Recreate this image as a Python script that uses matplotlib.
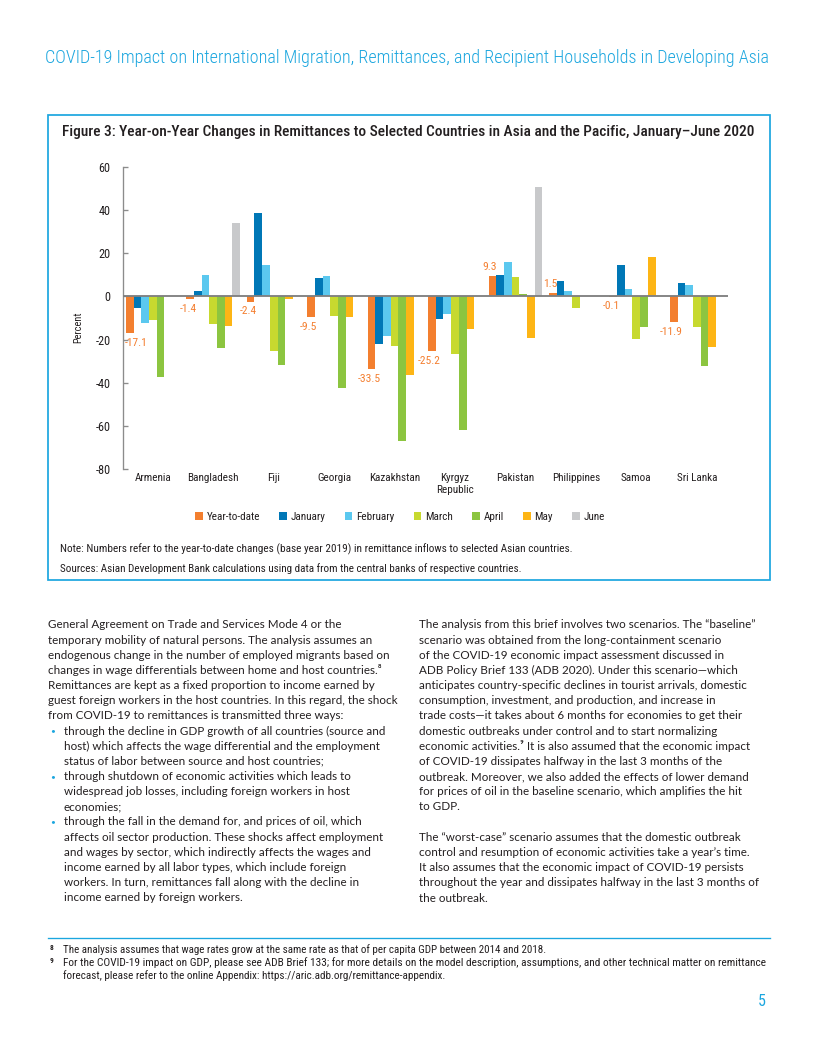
import numpy as np
import matplotlib
matplotlib.use("Agg")
import matplotlib.pyplot as plt
from matplotlib import font_manager
from matplotlib.patches import Rectangle, Patch

# ---------------- data ----------------
countries = ["Armenia", "Bangladesh", "Fiji", "Georgia", "Kazakhstan",
             "Kyrgyz\nRepublic", "Pakistan", "Philippines", "Samoa", "Sri Lanka"]
series_names = ["Year-to-date", "January", "February", "March", "April", "May", "June"]
nan = np.nan
ytd = [-17.1, -1.4, -2.4, -9.5, -33.5, -25.2, 9.3, 1.5, -0.1, -11.9]
jan = [-5.5, 2.3, 38.5, 8.5, -22.0, -10.3, 9.7, 7.1, 14.5, 6.3]
feb = [-12.3, 10.0, 14.6, 9.3, -18.2, -8.0, 15.7, 2.3, 3.4, 5.2]
mar = [-11.1, -12.6, -25.1, -9.1, -22.8, -26.5, 9.1, -5.2, -19.6, -14.0]
apr = [-37.3, -23.9, -31.8, -42.4, -66.8, -62.0, 0.9, nan, -14.0, -32.4]
may = [nan, -13.9, -1.2, -9.7, -36.2, -15.1, -19.1, nan, 18.2, -23.3]
jun = [nan, 33.9, nan, nan, nan, nan, 50.4, nan, nan, nan]
y_ticks = [-80, -60, -40, -20, 0, 20, 40, 60]

header_text = ("COVID-19 Impact on International Migration, Remittances, "
               "and Recipient Households in Developing Asia")
fig_title = ("Figure 3: Year-on-Year Changes in Remittances to Selected Countries "
             "in Asia and the Pacific, January\u2013June 2020")
note_text = ("Note: Numbers refer to the year-to-date changes (base year 2019) in "
             "remittance inflows to selected Asian countries.")
source_text = ("Sources: Asian Development Bank calculations using data from the "
               "central banks of respective countries.")

col1_lines = [
    ("", "General Agreement on Trade and Services Mode 4 or the"),
    ("", "temporary mobility of natural persons. The analysis assumes an"),
    ("", "endogenous change in the number of employed migrants based on"),
    ("", "changes in wage differentials between home and host countries.\u2078"),
    ("", "Remittances are kept as a fixed proportion to income earned by"),
    ("", "guest foreign workers in the host countries. In this regard, the shock"),
    ("", "from COVID-19 to remittances is transmitted three ways:"),
    ("b", "through the decline in GDP growth of all countries (source and"),
    ("i", "host) which affects the wage differential and the employment"),
    ("i", "status of labor between source and host countries;"),
    ("b", "through shutdown of economic activities which leads to"),
    ("i", "widespread job losses, including foreign workers in host"),
    ("i", "economies;"),
    ("b", "through the fall in the demand for, and prices of oil, which"),
    ("i", "affects oil sector production. These shocks affect employment"),
    ("i", "and wages by sector, which indirectly affects the wages and"),
    ("i", "income earned by all labor types, which include foreign"),
    ("i", "workers. In turn, remittances fall along with the decline in"),
    ("i", "income earned by foreign workers."),
]
col2_par1 = [
    "The analysis from this brief involves two scenarios. The \u201cbaseline\u201d",
    "scenario was obtained from the long-containment scenario",
    "of the COVID-19 economic impact assessment discussed in",
    "ADB Policy Brief 133 (ADB 2020). Under this scenario\u2014which",
    "anticipates country-specific declines in tourist arrivals, domestic",
    "consumption, investment, and production, and increase in",
    "trade costs\u2014it takes about 6 months for economies to get their",
    "domestic outbreaks under control and to start normalizing",
    "economic activities.\u2079 It is also assumed that the economic impact",
    "of COVID-19 dissipates halfway in the last 3 months of the",
    "outbreak. Moreover, we also added the effects of lower demand",
    "for prices of oil in the baseline scenario, which amplifies the hit",
    "to GDP.",
]
col2_par2 = [
    "The \u201cworst-case\u201d scenario assumes that the domestic outbreak",
    "control and resumption of economic activities take a year\u2019s time.",
    "It also assumes that the economic impact of COVID-19 persists",
    "throughout the year and dissipates halfway in the last 3 months of",
    "the outbreak.",
]
footnotes = [
    ("8", ["The analysis assumes that wage rates grow at the same rate as that of "
           "per capita GDP between 2014 and 2018."]),
    ("9", ["For the COVID-19 impact on GDP, please see ADB Brief 133; for more details "
           "on the model description, assumptions, and other technical matter on remittance",
           "forecast, please refer to the online Appendix: "
           "https://aric.adb.org/remittance-appendix."]),
]
page_number = "5"

# ---------------- styles ----------------
series_colors = ["#F37F2F", "#0077B6", "#5BC8EF", "#C7D92F", "#8CC540", "#FDB515", "#C8C9CB"]
label_color = "#F47F30"
cyan = "#1BA6DF"
dark = "#231F20"

avail = {f.name for f in font_manager.fontManager.ttflist}
narrow = next((n for n in ["Liberation Sans Narrow", "Roboto Condensed",
                           "Open Sans Condensed", "DejaVu Sans Condensed"] if n in avail),
              "Lato" if "Lato" in avail else "DejaVu Sans")
body_font = "Lato" if "Lato" in avail else "DejaVu Sans"
NARROW = [narrow, "DejaVu Sans"]
BODY = [body_font, "DejaVu Sans"]

plt.rcParams["axes.unicode_minus"] = False
plt.rcParams["font.family"] = NARROW

W, H = 816, 1056
fig = plt.figure(figsize=(W / 96, H / 96), dpi=96)
renderer = fig.canvas.get_renderer()


def P(x, y):
    return (x / W, 1 - y / H)


def ftext(x, y, s, size, width=None, **kw):
    t = fig.text(*P(x, y), s, fontsize=size, **kw)
    if width is not None:
        for _ in range(2):
            bb = t.get_window_extent(renderer)
            t.set_fontsize(t.get_fontsize() * width / bb.width)
    return t


# ---------------- chart ----------------
ax_l, ax_r, ax_t, ax_b = 122.7, 728.0, 166.7, 469.3
ax = fig.add_axes([ax_l / W, 1 - ax_b / H, (ax_r - ax_l) / W, (ax_b - ax_t) / H])
ax.patch.set_alpha(0)

series = [ytd, jan, feb, mar, apr, may, jun]
x = np.arange(len(countries))
bw = 0.127
for i, (vals, c, name) in enumerate(zip(series, series_colors, series_names)):
    ax.bar(x + (i - 3) * bw, np.array(vals, dtype=float), width=bw, color=c,
           edgecolor="none", label=name, zorder=2)

for xi, v in zip(x, ytd):
    dy = 7.2 if v > 0 else -7.4
    dx = -1.8
    if xi == 0:
        dx = 4.5
    ax.annotate(f"{v:.1f}", (xi - 3 * bw, v), xytext=(dx, dy),
                textcoords="offset points", ha="center", va="center",
                fontsize=8.6, color=label_color, zorder=3)

ax.axhline(0, color="#808080", lw=1.4, zorder=3)
ax.set_ylim(-80, 60)
ax.set_xlim(-0.498, 9.517)
ax.set_yticks(y_ticks)
ax.set_yticklabels([str(t) for t in y_ticks])
ax.set_xticks(x)
ax.set_xticklabels(countries, linespacing=1.2)
for s in ["top", "right", "bottom"]:
    ax.spines[s].set_visible(False)
ax.spines["left"].set_color("#8C8C8C")
ax.spines["left"].set_linewidth(1.0)
ax.tick_params(axis="y", direction="in", length=3.5, width=1.0, color="#8C8C8C",
               pad=9, labelsize=9.2, labelcolor=dark)
ax.tick_params(axis="x", length=0, pad=3.0, labelsize=8.3, labelcolor=dark)
ax.set_ylabel("Percent", fontsize=7.8, color=dark)
ax.yaxis.set_label_coords(-0.066, 0.47)

handles = [Patch(facecolor=c, edgecolor="none") for c in series_colors]
cs = 1.8
for _ in range(3):
    leg = fig.legend(handles, series_names, loc="center", bbox_to_anchor=P(400, 517),
                     ncol=7, frameon=False, fontsize=8.3, handlelength=0.7,
                     handleheight=0.7, handletextpad=0.35, columnspacing=cs,
                     borderpad=0, borderaxespad=0)
    lw_px = leg.get_window_extent(renderer).width
    fs_px = 8.3 * 96 / 72
    cs = max(0.2, cs + (410 - lw_px) / (6 * fs_px))
    leg.remove()
leg = fig.legend(handles, series_names, loc="center", bbox_to_anchor=P(400, 517),
                 ncol=7, frameon=False, fontsize=8.3, handlelength=0.7,
                 handleheight=0.7, handletextpad=0.35, columnspacing=cs,
                 borderpad=0, borderaxespad=0)
for t in leg.get_texts():
    t.set_color(dark)

# ---------------- page furniture ----------------
ftext(45, 58, header_text, 13, width=723, color=cyan, va="center", ha="left",
      fontweight="light")
fig.add_artist(Rectangle(P(48, 580), (770 - 48) / W, (580 - 115) / H,
                         transform=fig.transFigure, fill=False, ec=cyan, lw=1.3))
ftext(62, 132, fig_title, 10, width=693, color=dark, va="center", ha="left",
      fontweight="medium")
ftext(60, 549, note_text, 7.5, width=513, color=dark, va="center", ha="left")
ftext(60, 569, source_text, 7.5, width=461, color=dark, va="center", ha="left")

# body text: size fitted on one full line per column
probe = fig.text(0, 0, col1_lines[5][1], fontsize=10, family=BODY)
w1 = probe.get_window_extent(renderer).width
probe.set_text(col2_par1[0])
w2 = probe.get_window_extent(renderer).width
probe.remove()
body_size = 10 * 0.5 * (343 / w1 + 343 / w2)

lh = 15.15
y0 = 625
for k, (kind, line) in enumerate(col1_lines):
    yy = y0 + k * lh
    xx = 48.3 if kind == "" else 64
    fig.text(*P(xx, yy), line, fontsize=body_size, family=BODY, color=dark,
             va="center", ha="left")
    if kind == "b":
        fig.text(*P(50.3, yy), "\u2022", fontsize=body_size * 0.72, family=BODY,
                 color=cyan, va="center", ha="left")
for k, line in enumerate(col2_par1):
    fig.text(*P(419.3, y0 + k * lh), line, fontsize=body_size, family=BODY,
             color=dark, va="center", ha="left")
y2 = 837.5
for k, line in enumerate(col2_par2):
    fig.text(*P(419.3, y2 + k * lh), line, fontsize=body_size, family=BODY,
             color=dark, va="center", ha="left")

# footnotes
fig.add_artist(plt.Line2D([48 / W, 770 / W], [1 - 938 / H] * 2,
                          transform=fig.transFigure, color=cyan, lw=1.0))
fy = [[950], [963, 976]]
fwidths = [[485], [700, 382]]
for (num, lines), ys, ws in zip(footnotes, fy, fwidths):
    ftext(50, ys[0] - 2, num, 5.5, color=dark, va="center", ha="left",
          fontweight="bold")
    for line, yy, ww in zip(lines, ys, ws):
        ftext(63, yy, line, 7, width=ww, color=dark, va="center", ha="left")

ftext(766, 1002, page_number, 12, color=cyan, va="center", ha="right")

fig.savefig("out.png", dpi=96)
